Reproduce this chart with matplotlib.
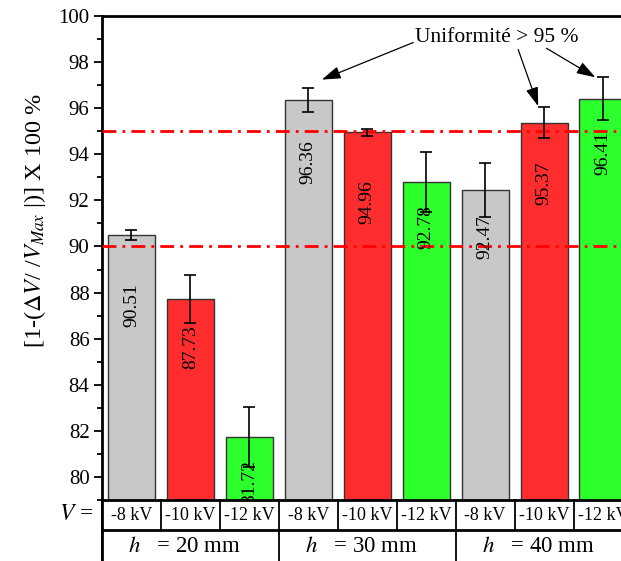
import matplotlib
matplotlib.use("Agg")
import matplotlib.pyplot as plt
import matplotlib.transforms as mtransforms
import numpy as np

plt.rcParams['font.family'] = ['Liberation Serif', 'DejaVu Serif']
plt.rcParams['mathtext.fontset'] = 'stix'

# ---------------- data ----------------
heights = ["20", "30", "40"]
voltages = ["-8 kV", "-10 kV", "-12 kV"]
values = [90.51, 87.73, 81.72, 96.36, 94.96, 92.78, 92.47, 95.37, 96.41]
errors = [0.22, 1.05, 1.30, 0.53, 0.15, 1.30, 1.17, 0.67, 0.93]
threshold_lines = [95, 90]
annot_text = "Uniformité > 95 %"
annot_targets = [3, 7, 8]  # indices of bars pointed at

# ---------------- style ----------------
bar_colors = ['#c8c8c8', '#ff2d2d', '#2dff2d']
label_offsets_px = [70, 48, 45, 62, 70, 45, 48, 60, 54]

fig = plt.figure(figsize=(6.21, 5.61), dpi=100)
ax = fig.add_axes([102/621, 61/561, 530.5/621, 484/561])

n = len(values)
x = np.arange(n)
colors = [bar_colors[i % 3] for i in range(n)]
ax.bar(x, values, width=0.8, color=colors, edgecolor='#333333', linewidth=1.0,
       zorder=2, bottom=0)
ax.errorbar(x, values, yerr=errors, fmt='none', ecolor='black', elinewidth=1.2,
            capsize=4.5, capthick=1.2, zorder=4)

for yv in threshold_lines:
    ax.axhline(yv, color='red', lw=2, linestyle=(0, (5, 2.2, 1, 2.2)), zorder=3)

ax.set_xlim(-0.5, n - 0.5)
ax.set_ylim(79, 100)
ax.set_yticks(np.arange(80, 101, 2))
ax.set_yticks(np.arange(79, 101, 1), minor=True)
ax.set_xticks([])
ax.tick_params(axis='y', which='major', direction='out', length=6, width=1.3,
               labelsize=15, pad=3)
ax.tick_params(axis='y', which='minor', direction='out', length=3.5, width=1.3)
for side in ['left', 'bottom', 'top', 'right']:
    ax.spines[side].set_linewidth(2)

# value labels inside bars
for xi, v, off in zip(x, values, label_offsets_px):
    t = ax.annotate(f"{v:.2f}", xy=(xi, v), xytext=(0, -off * 0.72),
                    textcoords='offset points', rotation=90, ha='center',
                    va='center', fontsize=14, zorder=5, annotation_clip=False)
    t.set_clip_on(True)
    t.set_clip_path(ax.patch)

# annotation with arrows
txt_xy = (6.19, 99.05)
ax.text(*txt_xy, annot_text, ha='center', va='center', fontsize=15.5, zorder=6)
starts = [(4.78, 98.85), (6.56, 98.55), (7.04, 98.6)]
tip_dx = [0.23, -0.1, -0.13]
tip_dy = [0.35, 0.05, 0.0]
for idx, st, dx, dy in zip(annot_targets, starts, tip_dx, tip_dy):
    tip = (idx + dx, values[idx] + errors[idx] + dy)
    ax.annotate("", xy=tip, xytext=st,
                arrowprops=dict(arrowstyle='-|>,head_length=1.15,head_width=0.38',
                                color='black', lw=0.9, shrinkA=0, shrinkB=0),
                zorder=6)

# y label
ax.set_ylabel(r"[1-($\Delta$$V$/ /$V_{Max}$ |)] X 100 %", fontsize=17.5)
ax.yaxis.set_label_coords(-0.102, 0.578)

# ---------------- category table below axis ----------------
trans = mtransforms.blended_transform_factory(ax.transData, ax.transAxes)
row1 = -30 / 484
row2 = -62 / 484
lw_in = 1.3
for b in np.arange(-0.5, n, 1.0):
    ax.plot([b, b], [0, row1], transform=trans, color='black', lw=lw_in, clip_on=False)
for b in np.arange(-0.5, n + 0.5, 3.0):
    ax.plot([b, b], [row1, row2], transform=trans, color='black', lw=lw_in, clip_on=False)
ax.plot([-0.5, -0.5], [0, row2], transform=trans, color='black', lw=2, clip_on=False)
ax.plot([-0.5, n - 0.5], [row1, row1], transform=trans, color='black', lw=2, clip_on=False)

for i in range(n):
    ax.text(i, row1 / 2, voltages[i % 3], transform=trans, ha='center', va='center',
            fontsize=13)
for g, h in enumerate(heights):
    ax.text(3 * g + 1 - 0.1, (row1 + row2) / 2 - 0.002, rf"$h$   = {h} mm",
            transform=trans, ha='center', va='center', fontsize=16.5)
ax.text(-0.017, row1 / 2, r"$V$ =", transform=ax.transAxes, ha='right', va='center',
        fontsize=17)

fig.savefig("out.png", dpi=100)
